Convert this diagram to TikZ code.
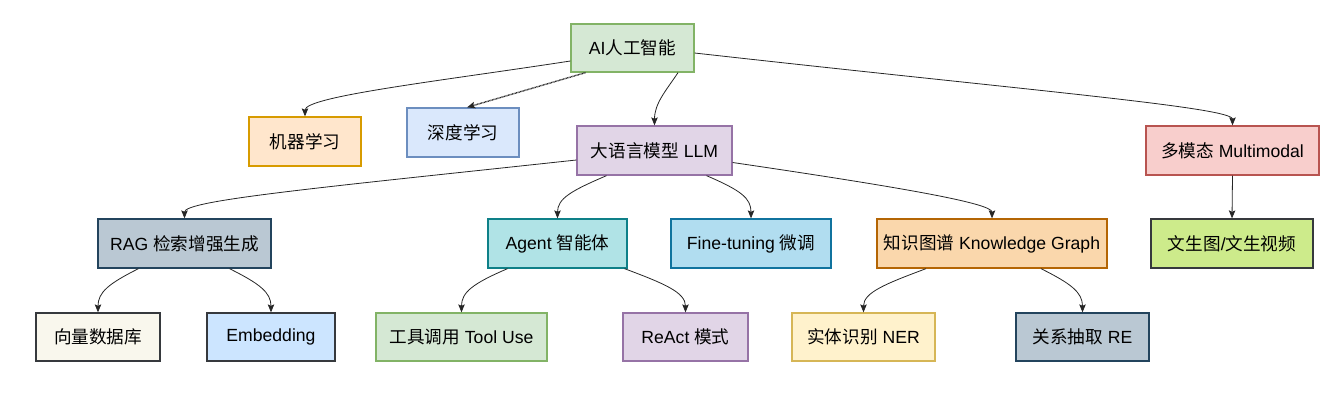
\documentclass[tikz,border=0pt]{standalone}
\usepackage{fontspec}
\setmainfont{Liberation Sans}
\newfontfamily\cjk{Noto Sans CJK SC}
\usetikzlibrary{arrows.meta}
\definecolor{gF}{HTML}{D5E8D4}\definecolor{gS}{HTML}{82B366}
\definecolor{oF}{HTML}{FFE6CC}\definecolor{oS}{HTML}{D79B00}
\definecolor{bF}{HTML}{DAE8FC}\definecolor{bS}{HTML}{6C8EBF}
\definecolor{pF}{HTML}{E1D5E7}\definecolor{pS}{HTML}{9673A6}
\definecolor{rF}{HTML}{F8CECC}\definecolor{rS}{HTML}{B85450}
\definecolor{sF}{HTML}{BAC8D3}\definecolor{sS}{HTML}{23445D}
\definecolor{tF}{HTML}{B0E3E6}\definecolor{tS}{HTML}{0E8088}
\definecolor{cF}{HTML}{B1DDF0}\definecolor{cS}{HTML}{10739E}
\definecolor{kF}{HTML}{FAD7AC}\definecolor{kS}{HTML}{B46504}
\definecolor{lF}{HTML}{CDEB8B}\definecolor{dS}{HTML}{36393D}
\definecolor{wF}{HTML}{F9F7ED}\definecolor{eF}{HTML}{CCE5FF}
\definecolor{yF}{HTML}{FFF2CC}\definecolor{yS}{HTML}{D6B656}
\begin{document}
\begin{tikzpicture}[x=1pt,y=-1pt,
  box/.style={draw, line width=1.3pt, minimum height=49pt, inner sep=0pt,
    font=\fontsize{17.6}{20}\selectfont, anchor=center},
  arr/.style={-{Stealth[length=8pt,width=6.5pt,inset=1.5pt]}, line width=0.8pt, draw=black!85}]
\useasboundingbox (0,0) rectangle (1341,392);
% level 0
\node[box, minimum width=123pt, minimum height=48pt, fill=gF, draw=gS] (ai) at (632.5,48) {AI{\cjk 人工智能}};
% level 1
\node[box, minimum width=112pt, fill=oF, draw=oS] (ml) at (305,141.5) {\cjk 机器学习};
\node[box, minimum width=112pt, fill=bF, draw=bS] (dl) at (463,132.5) {\cjk 深度学习};
\node[box, minimum width=155pt, fill=pF, draw=pS] (llm) at (654.5,150.5) {{\cjk 大语言模型} LLM};
\node[box, minimum width=173pt, fill=rF, draw=rS] (mm) at (1232.5,150.5) {{\cjk 多模态} Multimodal};
% level 2
\node[box, minimum width=173pt, fill=sF, draw=sS] (rag) at (184.5,243.5) {RAG {\cjk 检索增强生成}};
\node[box, minimum width=139pt, fill=tF, draw=tS] (agent) at (557.5,243.5) {Agent {\cjk 智能体}};
\node[box, minimum width=160pt, fill=cF, draw=cS] (ft) at (751,243.5) {Fine-tuning {\cjk 微调}};
\node[box, minimum width=230pt, fill=kF, draw=kS] (kg) at (992,243.5) {{\cjk 知识图谱} Knowledge Graph};
\node[box, minimum width=162pt, fill=lF, draw=dS] (t2i) at (1232,243.5) {{\cjk 文生图}/{\cjk 文生视频}};
% level 3
\node[box, minimum width=124pt, minimum height=48pt, fill=wF, draw=dS] (vec) at (98,337) {\cjk 向量数据库};
\node[box, minimum width=128pt, minimum height=48pt, fill=eF, draw=dS] (emb) at (271,337) {Embedding};
\node[box, minimum width=171pt, minimum height=48pt, fill=gF, draw=gS] (tool) at (461.5,337) {{\cjk 工具调用} Tool Use};
\node[box, minimum width=125pt, minimum height=48pt, fill=pF, draw=pS] (react) at (685.5,337) {ReAct {\cjk 模式}};
\node[box, minimum width=143pt, minimum height=48pt, fill=yF, draw=yS] (ner) at (863.5,337) {{\cjk 实体识别} NER};
\node[box, minimum width=133pt, minimum height=48pt, fill=sF, draw=sS] (re) at (1082.5,337) {{\cjk 关系抽取} RE};
% connectors
\draw[arr] ([yshift=-13pt]ai.west) .. controls +(-130,20) and +(0,-20) .. (ml.north);
\draw[arr, line width=1.4pt, dash pattern=on 0.8pt off 0.6pt] ([xshift=-47pt]ai.south) -- ([xshift=4pt]dl.north);
\draw[arr] ([xshift=45.5pt]ai.south) .. controls +(-12,18) and +(0,-22) .. (llm.north);
\draw[arr] ([yshift=-5pt]ai.east) .. controls +(330,37) and +(0,-18) .. (mm.north);
\draw[arr] ([yshift=-9.5pt]llm.west) .. controls +(-260,28) and +(0,-18) .. (rag.north);
\draw[arr] ([xshift=-48pt]llm.south) .. controls +(-35,15) and +(0,-20) .. (agent.north);
\draw[arr] ([xshift=52pt]llm.south) .. controls +(35,15) and +(0,-20) .. (ft.north);
\draw[arr] ([yshift=-12pt]llm.east) .. controls +(170,25) and +(0,-15) .. (kg.north);
\draw[arr] (mm.south) -- (t2i.north);
\draw[arr] ([xshift=-46pt]rag.south) .. controls +(-30,15) and +(0,-20) .. (vec.north);
\draw[arr] ([xshift=45pt]rag.south) .. controls +(30,15) and +(0,-20) .. (emb.north);
\draw[arr] ([xshift=-50pt]agent.south) .. controls +(-35,15) and +(0,-20) .. (tool.north);
\draw[arr] ([xshift=67pt]agent.south) .. controls +(40,15) and +(0,-20) .. (react.north);
\draw[arr] ([xshift=-66pt]kg.south) .. controls +(-40,15) and +(0,-20) .. (ner.north);
\draw[arr] ([xshift=49pt]kg.south) .. controls +(30,15) and +(0,-20) .. (re.north);
\end{tikzpicture}
\end{document}
